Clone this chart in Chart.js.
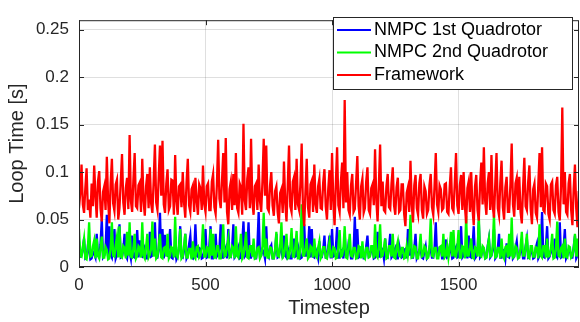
<!DOCTYPE html>
<html>
<head>
<meta charset="utf-8">
<script src="https://cdn.jsdelivr.net/npm/chart.js@4.4.1/dist/chart.umd.min.js"></script>
<style>
  html, body { margin: 0; padding: 0; background: #fff; }
  #wrap { width: 580px; height: 322px; }
</style>
</head>
<body>
<div id="wrap"><canvas id="chart-loop" width="580" height="322"></canvas></div>
<script>
const seriesLabels = ['NMPC 1st Quadrotor', 'NMPC 2nd Quadrotor', 'Framework'];
const seriesColors = ['#0000ff', '#00ff00', '#ff0000'];
const yTicks = [0, 0.05, 0.1, 0.15, 0.2, 0.25];
const xTicks = [0, 500, 1000, 1500];
const sampleStep = 5; // one value every 5 timesteps

// loop time [s]
const nmpc1 = [
  0.027, 0.011, 0.012, 0.019, 0.03, 0.009, 0.01, 0.022, 0.018, 0.008, 0.009, 0.016, 0.014, 0.01, 0.035, 0.012, 0.011, 0.024, 0.05, 0.01,
  0.012, 0.02, 0.055, 0.01, 0.043, 0.013, 0.01, 0.025, 0.04, 0.009, 0.013, 0.021, 0.045, 0.01, 0.011, 0.018, 0.035, 0.012, 0.009, 0.02,
  0.016, 0.009, 0.033, 0.011, 0.01, 0.017, 0.039, 0.01, 0.028, 0.012, 0.011, 0.023, 0.02, 0.009, 0.009, 0.015, 0.037, 0.011, 0.012, 0.02,
  0.047, 0.01, 0.01, 0.018, 0.057, 0.011, 0.04, 0.009, 0.034, 0.013, 0.012, 0.022, 0.04, 0.01, 0.009, 0.016, 0.022, 0.008, 0.011, 0.02,
  0.043, 0.011, 0.01, 0.017, 0.035, 0.009, 0.012, 0.024, 0.033, 0.01, 0.009, 0.015, 0.045, 0.012, 0.011, 0.02, 0.019, 0.009, 0.01, 0.018,
  0.04, 0.01, 0.011, 0.022, 0.043, 0.009, 0.009, 0.017, 0.035, 0.011, 0.013, 0.02, 0.045, 0.01, 0.01, 0.016, 0.02, 0.009, 0.04, 0.012,
  0.011, 0.02, 0.045, 0.01, 0.012, 0.017, 0.021, 0.009, 0.01, 0.025, 0.048, 0.011, 0.013, 0.019, 0.047, 0.01, 0.01, 0.016, 0.018, 0.009,
  0.009, 0.022, 0.058, 0.011, 0.012, 0.018, 0.016, 0.009, 0.043, 0.012, 0.01, 0.02, 0.023, 0.009, 0.009, 0.017, 0.035, 0.01, 0.011, 0.021,
  0.019, 0.009, 0.033, 0.012, 0.01, 0.02, 0.015, 0.009, 0.009, 0.018, 0.03, 0.011, 0.012, 0.023, 0.018, 0.009, 0.01, 0.016, 0.045, 0.012,
  0.012, 0.02, 0.043, 0.01, 0.04, 0.011, 0.01, 0.019, 0.015, 0.009, 0.027, 0.012, 0.011, 0.018, 0.033, 0.01, 0.01, 0.021, 0.033, 0.009,
  0.04, 0.011, 0.012, 0.02, 0.042, 0.01, 0.01, 0.017, 0.018, 0.009, 0.035, 0.012, 0.011, 0.024, 0.02, 0.009, 0.009, 0.016, 0.053, 0.011,
  0.04, 0.01, 0.011, 0.019, 0.017, 0.009, 0.009, 0.022, 0.033, 0.011, 0.012, 0.018, 0.02, 0.009, 0.01, 0.017, 0.037, 0.011, 0.011, 0.02,
  0.018, 0.009, 0.03, 0.011, 0.01, 0.021, 0.035, 0.01, 0.012, 0.017, 0.02, 0.009, 0.009, 0.023, 0.016, 0.01, 0.011, 0.018, 0.019, 0.009,
  0.04, 0.012, 0.038, 0.01, 0.01, 0.02, 0.035, 0.009, 0.012, 0.018, 0.019, 0.01, 0.009, 0.016, 0.022, 0.009, 0.011, 0.02, 0.018, 0.01,
  0.01, 0.019, 0.047, 0.011, 0.012, 0.02, 0.02, 0.009, 0.009, 0.017, 0.029, 0.01, 0.011, 0.022, 0.017, 0.009, 0.01, 0.018, 0.021, 0.01,
  0.011, 0.02, 0.043, 0.01, 0.012, 0.018, 0.02, 0.009, 0.033, 0.011, 0.01, 0.021, 0.043, 0.009, 0.011, 0.017, 0.048, 0.01, 0.012, 0.02,
  0.019, 0.009, 0.01, 0.022, 0.03, 0.01, 0.012, 0.018, 0.04, 0.009, 0.011, 0.02, 0.035, 0.01, 0.01, 0.017, 0.018, 0.009, 0.025, 0.011,
  0.01, 0.018, 0.032, 0.009, 0.011, 0.02, 0.027, 0.01, 0.012, 0.017, 0.019, 0.009, 0.009, 0.022, 0.03, 0.01, 0.011, 0.016, 0.017, 0.009,
  0.01, 0.02, 0.025, 0.009, 0.012, 0.018, 0.058, 0.011, 0.01, 0.021, 0.043, 0.009, 0.011, 0.017, 0.02, 0.01, 0.03, 0.012, 0.01, 0.019,
  0.047, 0.01, 0.011, 0.02, 0.04, 0.009, 0.012, 0.018, 0.018, 0.01, 0.01, 0.021, 0.033, 0.009, 0.012, 0.017
];

const nmpc2 = [
  0.04, 0.012, 0.011, 0.021, 0.03, 0.009, 0.008, 0.02, 0.047, 0.011, 0.012, 0.022, 0.028, 0.009, 0.03, 0.012, 0.009, 0.02, 0.032, 0.01,
  0.01, 0.021, 0.018, 0.008, 0.009, 0.019, 0.047, 0.012, 0.011, 0.023, 0.032, 0.01, 0.043, 0.011, 0.01, 0.022, 0.02, 0.009, 0.037, 0.012,
  0.047, 0.011, 0.01, 0.02, 0.035, 0.009, 0.012, 0.022, 0.02, 0.01, 0.047, 0.012, 0.009, 0.021, 0.035, 0.01, 0.013, 0.019, 0.048, 0.011,
  0.03, 0.009, 0.011, 0.022, 0.035, 0.01, 0.009, 0.02, 0.021, 0.011, 0.035, 0.009, 0.012, 0.021, 0.02, 0.01, 0.053, 0.012, 0.01, 0.02,
  0.04, 0.009, 0.011, 0.022, 0.035, 0.01, 0.01, 0.019, 0.019, 0.008, 0.027, 0.011, 0.009, 0.021, 0.022, 0.01, 0.012, 0.02, 0.045, 0.011,
  0.011, 0.021, 0.02, 0.009, 0.04, 0.012, 0.035, 0.01, 0.01, 0.022, 0.022, 0.009, 0.009, 0.02, 0.045, 0.011, 0.012, 0.021, 0.03, 0.01,
  0.011, 0.022, 0.02, 0.009, 0.043, 0.012, 0.01, 0.02, 0.035, 0.009, 0.012, 0.021, 0.037, 0.01, 0.009, 0.022, 0.022, 0.011, 0.03, 0.009,
  0.01, 0.02, 0.021, 0.009, 0.012, 0.022, 0.057, 0.011, 0.03, 0.01, 0.01, 0.021, 0.02, 0.009, 0.009, 0.019, 0.037, 0.012, 0.011, 0.022,
  0.047, 0.01, 0.012, 0.021, 0.035, 0.009, 0.01, 0.02, 0.041, 0.011, 0.011, 0.022, 0.038, 0.009, 0.009, 0.021, 0.066, 0.012, 0.012, 0.02,
  0.03, 0.009, 0.011, 0.022, 0.02, 0.01, 0.03, 0.012, 0.01, 0.02, 0.027, 0.009, 0.012, 0.021, 0.021, 0.01, 0.009, 0.019, 0.027, 0.011,
  0.011, 0.021, 0.02, 0.009, 0.01, 0.022, 0.039, 0.011, 0.012, 0.02, 0.043, 0.01, 0.009, 0.021, 0.035, 0.012, 0.011, 0.02, 0.02, 0.009,
  0.01, 0.022, 0.021, 0.009, 0.027, 0.011, 0.009, 0.02, 0.02, 0.01, 0.011, 0.022, 0.022, 0.009, 0.045, 0.012, 0.01, 0.021, 0.045, 0.011,
  0.012, 0.02, 0.03, 0.009, 0.01, 0.022, 0.022, 0.011, 0.035, 0.01, 0.009, 0.021, 0.027, 0.012, 0.011, 0.02, 0.02, 0.009, 0.01, 0.022,
  0.012, 0.021, 0.055, 0.01, 0.011, 0.022, 0.021, 0.009, 0.009, 0.02, 0.035, 0.011, 0.012, 0.022, 0.02, 0.009, 0.01, 0.021, 0.051, 0.012,
  0.011, 0.02, 0.02, 0.009, 0.009, 0.021, 0.022, 0.011, 0.035, 0.01, 0.012, 0.022, 0.01, 0.02, 0.037, 0.011, 0.039, 0.012, 0.011, 0.021,
  0.039, 0.01, 0.01, 0.022, 0.021, 0.009, 0.054, 0.012, 0.012, 0.02, 0.03, 0.01, 0.009, 0.021, 0.02, 0.011, 0.055, 0.012, 0.011, 0.022,
  0.02, 0.009, 0.01, 0.021, 0.03, 0.011, 0.012, 0.022, 0.055, 0.01, 0.011, 0.02, 0.02, 0.009, 0.03, 0.012, 0.009, 0.021, 0.022, 0.01,
  0.035, 0.011, 0.052, 0.01, 0.011, 0.022, 0.02, 0.009, 0.01, 0.021, 0.037, 0.012, 0.012, 0.02, 0.035, 0.01, 0.009, 0.022, 0.022, 0.011,
  0.011, 0.021, 0.02, 0.009, 0.045, 0.012, 0.01, 0.022, 0.022, 0.01, 0.03, 0.011, 0.012, 0.02, 0.035, 0.009, 0.01, 0.021, 0.048, 0.012,
  0.011, 0.02, 0.022, 0.009, 0.03, 0.011, 0.01, 0.022, 0.021, 0.01, 0.012, 0.02, 0.035, 0.011, 0.03, 0.01
];

const framework = [
  0.062, 0.078, 0.108, 0.066, 0.057, 0.083, 0.104, 0.06, 0.071, 0.052, 0.088, 0.064, 0.107, 0.075, 0.052, 0.09, 0.101, 0.062, 0.048, 0.079,
  0.085, 0.06, 0.116, 0.07, 0.046, 0.088, 0.114, 0.067, 0.059, 0.087, 0.092, 0.05, 0.062, 0.09, 0.119, 0.068, 0.055, 0.083, 0.094, 0.061,
  0.139, 0.07, 0.058, 0.092, 0.12, 0.064, 0.062, 0.086, 0.089, 0.058, 0.114, 0.07, 0.054, 0.085, 0.098, 0.062, 0.105, 0.067, 0.057, 0.09,
  0.129, 0.068, 0.06, 0.095, 0.128, 0.075, 0.133, 0.066, 0.057, 0.088, 0.103, 0.06, 0.064, 0.092, 0.091, 0.055, 0.118, 0.07, 0.055, 0.085,
  0.087, 0.063, 0.1, 0.068, 0.052, 0.089, 0.114, 0.065, 0.058, 0.082, 0.086, 0.058, 0.094, 0.07, 0.055, 0.087, 0.083, 0.06, 0.107, 0.066,
  0.058, 0.085, 0.088, 0.06, 0.06, 0.09, 0.098, 0.063, 0.056, 0.087, 0.134, 0.072, 0.062, 0.09, 0.12, 0.068, 0.136, 0.058, 0.045, 0.082,
  0.09, 0.06, 0.098, 0.065, 0.12, 0.062, 0.057, 0.088, 0.084, 0.055, 0.151, 0.07, 0.06, 0.093, 0.105, 0.062, 0.135, 0.068, 0.055, 0.085,
  0.088, 0.06, 0.108, 0.07, 0.058, 0.09, 0.135, 0.075, 0.128, 0.062, 0.059, 0.086, 0.1, 0.065, 0.054, 0.08, 0.085, 0.058, 0.046, 0.078,
  0.082, 0.057, 0.111, 0.068, 0.048, 0.086, 0.128, 0.064, 0.058, 0.09, 0.095, 0.06, 0.114, 0.066, 0.06, 0.088, 0.13, 0.062, 0.043, 0.08,
  0.114, 0.063, 0.052, 0.087, 0.091, 0.058, 0.108, 0.066, 0.057, 0.085, 0.093, 0.062, 0.061, 0.089, 0.103, 0.064, 0.05, 0.082, 0.102, 0.06,
  0.12, 0.07, 0.044, 0.088, 0.126, 0.065, 0.058, 0.09, 0.11, 0.062, 0.176, 0.068, 0.1, 0.06, 0.055, 0.086, 0.098, 0.058, 0.061, 0.088,
  0.117, 0.064, 0.05, 0.085, 0.093, 0.057, 0.062, 0.09, 0.105, 0.06, 0.056, 0.083, 0.087, 0.065, 0.124, 0.07, 0.048, 0.086, 0.129, 0.064,
  0.09, 0.06, 0.058, 0.085, 0.098, 0.063, 0.061, 0.088, 0.105, 0.065, 0.055, 0.084, 0.094, 0.058, 0.06, 0.087, 0.087, 0.056, 0.043, 0.078,
  0.084, 0.058, 0.112, 0.066, 0.047, 0.086, 0.097, 0.062, 0.055, 0.088, 0.098, 0.06, 0.051, 0.085, 0.08, 0.056, 0.06, 0.086, 0.098, 0.063,
  0.055, 0.085, 0.12, 0.066, 0.058, 0.086, 0.082, 0.06, 0.062, 0.087, 0.088, 0.058, 0.056, 0.084, 0.105, 0.062, 0.059, 0.088, 0.12, 0.065,
  0.056, 0.086, 0.097, 0.06, 0.1, 0.064, 0.046, 0.083, 0.09, 0.058, 0.1, 0.062, 0.044, 0.085, 0.097, 0.06, 0.049, 0.087, 0.11, 0.066,
  0.126, 0.07, 0.055, 0.088, 0.1, 0.06, 0.118, 0.064, 0.052, 0.087, 0.12, 0.062, 0.054, 0.089, 0.112, 0.063, 0.05, 0.084, 0.095, 0.058,
  0.058, 0.087, 0.13, 0.066, 0.053, 0.088, 0.094, 0.06, 0.095, 0.058, 0.046, 0.084, 0.115, 0.064, 0.06, 0.089, 0.107, 0.062, 0.045, 0.082,
  0.088, 0.057, 0.052, 0.086, 0.12, 0.063, 0.126, 0.06, 0.058, 0.088, 0.085, 0.056, 0.05, 0.087, 0.09, 0.06, 0.056, 0.086, 0.095, 0.058,
  0.049, 0.085, 0.168, 0.066, 0.1, 0.058, 0.055, 0.088, 0.098, 0.06, 0.044, 0.083, 0.108, 0.062, 0.042, 0.08
];

const timesteps = framework.map((_, i) => i * sampleStep);

const FONT = '"Liberation Sans", Arial, Helvetica, sans-serif';
const INK = '#262626';

// MATLAB-ish box round the axes, with inward tick marks on every side
const axesBox = {
  id: 'axesBox',
  afterDraw(chart) {
    const { ctx, chartArea: a, scales } = chart;
    ctx.save();
    ctx.strokeStyle = INK;
    ctx.lineWidth = 1;
    ctx.beginPath();
    xTicks.forEach((v) => {
      const px = Math.round(scales.x.getPixelForValue(v)) + 0.5;
      ctx.moveTo(px, a.bottom); ctx.lineTo(px, a.bottom - 5);
      ctx.moveTo(px, a.top); ctx.lineTo(px, a.top + 5);
    });
    yTicks.forEach((v) => {
      const py = Math.round(scales.y.getPixelForValue(v)) + 0.5;
      ctx.moveTo(a.left, py); ctx.lineTo(a.left + 5, py);
      ctx.moveTo(a.right, py); ctx.lineTo(a.right - 5, py);
    });
    ctx.stroke();
    ctx.strokeRect(a.left + 0.5, a.top + 0.5, a.right - a.left - 1, a.bottom - a.top - 1);
    ctx.restore();
  },
};

// legend drawn as a framed box in the upper right of the axes
const boxLegend = {
  id: 'boxLegend',
  afterDraw(chart) {
    const { ctx } = chart;
    const x0 = 333, y0 = 17, w = 239, h = 72;
    ctx.save();
    ctx.fillStyle = '#fff';
    ctx.fillRect(x0, y0, w, h);
    ctx.strokeStyle = INK;
    ctx.lineWidth = 1;
    ctx.strokeRect(x0 + 0.5, y0 + 0.5, w, h);
    ctx.font = '18px ' + FONT;
    ctx.textBaseline = 'middle';
    seriesLabels.forEach((label, i) => {
      const cy = y0 + 13 + i * 22.5;
      ctx.strokeStyle = seriesColors[i];
      ctx.lineWidth = 2;
      ctx.beginPath();
      ctx.moveTo(x0 + 4, cy);
      ctx.lineTo(x0 + 38, cy);
      ctx.stroke();
      ctx.fillStyle = '#000';
      ctx.fillText(label, x0 + 41, cy);
    });
    ctx.restore();
  },
};

const seriesValues = [nmpc1, nmpc2, framework];

new Chart(document.getElementById('chart-loop'), {
  type: 'line',
  data: {
    labels: timesteps,
    datasets: seriesValues.map((vals, i) => ({
      label: seriesLabels[i],
      data: vals,
      borderColor: seriesColors[i],
      backgroundColor: seriesColors[i],
      borderWidth: 2.3,
      pointRadius: 0,
      tension: 0,
      fill: false,
      order: 2 - i, // framework on top, like the original plot order
    })),
  },
  options: {
    responsive: false,
    animation: false,
    devicePixelRatio: 1,
    layout: { padding: { top: 5, right: 1, left: 0, bottom: 0 } },
    plugins: { legend: { display: false }, tooltip: { enabled: false } },
    scales: {
      x: {
        type: 'linear',
        min: 0,
        max: 1976,
        afterBuildTicks: (s) => { s.ticks = xTicks.map((v) => ({ value: v })); },
        afterFit: (s) => { s.height = 55; },
        ticks: {
          callback: (v) => String(v),
          color: INK,
          font: { family: FONT, size: 17 },
          padding: 8,
          maxRotation: 0,
        },
        grid: { color: 'rgba(38,38,38,0.15)', drawTicks: false },
        border: { display: false },
        title: {
          display: true,
          text: 'Timestep',
          color: INK,
          font: { family: FONT, size: 20 },
          padding: { top: 0, bottom: 2 },
        },
      },
      y: {
        min: 0,
        max: 0.26,
        afterBuildTicks: (s) => { s.ticks = yTicks.map((v) => ({ value: v })); },
        afterFit: (s) => { s.width = 79; },
        ticks: {
          callback: (v) => String(+v.toFixed(2)),
          color: INK,
          font: { family: FONT, size: 17 },
          padding: 10,
        },
        grid: { color: 'rgba(38,38,38,0.15)', drawTicks: false },
        border: { display: false },
        title: {
          display: true,
          text: 'Loop Time [s]',
          color: INK,
          font: { family: FONT, size: 20 },
          padding: { top: 5, bottom: 0 },
        },
      },
    },
  },
  plugins: [axesBox, boxLegend],
});
</script>
</body>
</html>
